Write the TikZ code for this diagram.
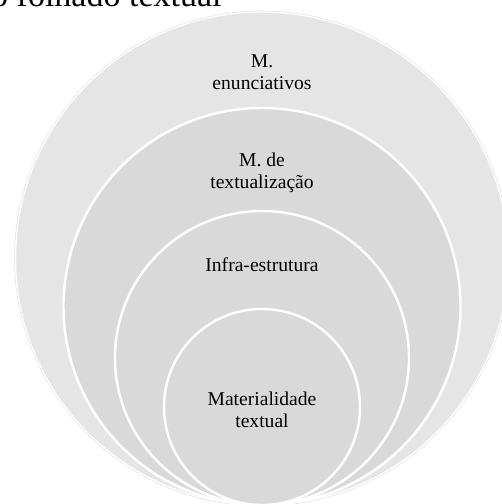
\documentclass[tikz,border=0pt]{standalone}
\usepackage{fontspec}
\setmainfont{Liberation Serif}
\usepackage{tikz}
\definecolor{outergray}{RGB}{229, 229, 229}
\definecolor{innergray}{RGB}{217, 217, 217}

\begin{document}
\begin{tikzpicture}[
    x=1pt, y=1pt,
    ring/.style={circle, draw=white, line width=2.4pt, fill=innergray,
                 inner sep=0pt},
    lbl/.style={font=\fontsize{19.6}{22.5}\selectfont, align=center,
                anchor=base, inner sep=0pt, text=black},
]
\useasboundingbox (0,0) rectangle (502,504);

% Title, cut off by the page
\node[anchor=base west, inner sep=0pt, font=\fontsize{34}{34}\selectfont]
    (title) at (-9,497) {o folhado textual};

% Circles, all touching at the bottom
\node[ring, fill=outergray, line width=1.4pt,
      preaction={draw=black!12, line width=2.6pt},
      minimum size=493] (c1) at (262,245.5) {};
\node[ring, minimum size=397] (c2) at (262,197.5) {};
\node[ring, minimum size=294] (c3) at (262,146) {};
\node[ring, minimum size=196] (c4) at (262,97) {};

% Labels (base = last line)
\node[lbl] (l1) at (262,414) {M.\\enunciativos};
\node[lbl] (l2) at (262,315) {M. de\\textualização};
\node[lbl] (l3) at (262,232.5) {Infra-estrutura};
\node[lbl] (l4) at (262,76) {Materialidade\\textual};

\end{tikzpicture}
\end{document}
